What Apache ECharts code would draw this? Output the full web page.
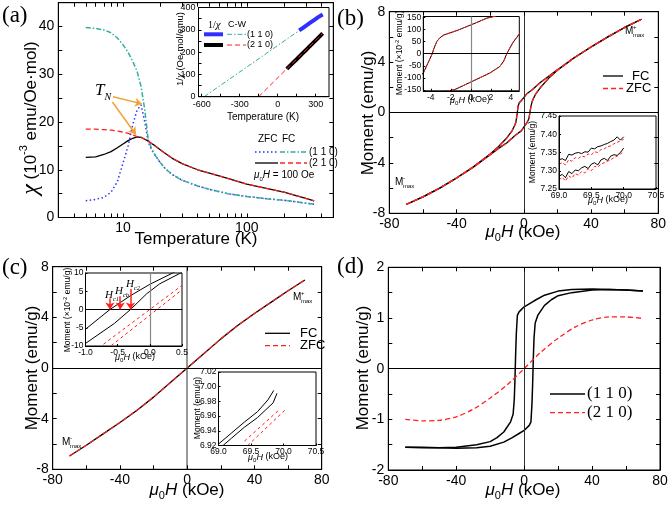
<!DOCTYPE html>
<html><head><meta charset="utf-8">
<script src="https://cdn.jsdelivr.net/npm/echarts@6/dist/echarts.min.js"></script>
<style>html,body{margin:0;padding:0;background:#fff}#c{width:671px;height:505px}</style>
</head><body><div id="c"></div>
<script>
// ===== DATA =====
// (a) susceptibility vs temperature
const a_T      = [5,6,7,8,9,10,11,12,13,14,15,16,17,18,20,22,25,30,40,50,70,100,150,200,250,300,350];
const a_zfc110 = [3.5,3.8,4.2,5.3,7.5,11.4,15,19.5,22.5,23.6,20,15.8,14.2,13.2,11.5,10.2,9,7.8,6.6,5.9,5.0,4.4,3.9,3.6,3.3,3.0,2.8];
const a_fc110  = [39.8,39.6,39.3,38.7,37.6,36.2,34.6,32.7,30.6,27.4,22.5,16.2,14.5,13.2,11.5,10.2,9,7.8,6.6,5.9,5.0,4.4,3.9,3.6,3.3,3.0,2.8];
const a_zfc210 = [12.6,12.7,13.2,13.8,14.6,15.4,16.1,16.6,16.9,16.8,16.4,16.0,15.5,15.1,14.2,13.4,12.4,11.3,10.0,9.3,8.2,7.0,6.0,5.3,4.6,4.0,3.5];
const a_fc210  = [18.5,18.5,18.4,18.3,18.1,17.9,17.6,17.3,16.95,16.8,16.4,16.0,15.5,15.1,14.2,13.4,12.4,11.3,10.0,9.3,8.2,7.0,6.0,5.3,4.6,4.0,3.5];
// (a) inset: 1/chi and Curie-Weiss fits
const ai_T110   = [170,200,230,260,290,320,355];
const ai_inv110 = [297,309,321,333,345,357,369];
const ai_cw110T = [-580,355];
const ai_cw110  = [0,370];
const ai_T210   = [72,110,150,190,230,270,310,355];
const ai_inv210 = [125,146,168,191,213,236,258,284];
const ai_cw210T = [-150,355];
const ai_cw210  = [0,285];
// (b) M(H) loop, (1 1 0)
const b_Hdown = [70,60,50,40,30,20,15,10,7,5,3,1.6,0,-1.4,-2.7,-3.1,-3.4,-3.7,-3.85,-4.3,-4.75,-5.5,-7,-10,-15,-20,-30,-40,-50,-60,-70];
const b_Mdown = [7.4,6.75,6.0,5.2,4.35,3.4,2.9,2.4,2.05,1.8,1.6,1.46,1.18,0.95,0.77,0.65,0.5,0.2,0,-0.4,-0.8,-1.05,-1.45,-2.0,-2.7,-3.3,-4.3,-5.2,-6.0,-6.7,-7.3];
const b_Hup   = [-70,-60,-50,-40,-30,-20,-15,-10,-7,-5,-3,-1.6,0,1.9,2.9,3.3,3.6,4.2,4.9,5.5,7,10,15,20,30,40,50,60,70];
const b_Mup   = [-7.3,-6.7,-6.0,-5.2,-4.35,-3.35,-2.85,-2.4,-2.05,-1.8,-1.6,-1.48,-1.17,-0.8,-0.53,-0.3,0,0.45,0.84,1.05,1.45,2.0,2.75,3.35,4.35,5.2,6.0,6.75,7.4];
// (b) inset 2: high-field detail
const b2_H    = [69.00,69.05,69.10,69.15,69.20,69.25,69.30,69.35,69.40,69.45,69.50,69.55,69.60,69.65,69.70,69.75,69.80,69.85,69.90,69.95,70.00];
const b2_fcU  = [7.330,7.333,7.328,7.345,7.343,7.348,7.350,7.347,7.352,7.351,7.362,7.360,7.366,7.368,7.372,7.375,7.380,7.384,7.393,7.384,7.393];
const b2_fcL  = [7.285,7.290,7.281,7.298,7.292,7.302,7.300,7.308,7.312,7.306,7.318,7.322,7.316,7.330,7.334,7.328,7.340,7.344,7.342,7.350,7.362];
const b2_zfcU = [7.318,7.322,7.316,7.330,7.326,7.336,7.334,7.340,7.338,7.346,7.344,7.352,7.350,7.358,7.360,7.366,7.368,7.374,7.378,7.382,7.386];
const b2_zfcL = [7.275,7.282,7.272,7.286,7.280,7.292,7.288,7.298,7.294,7.306,7.300,7.312,7.310,7.318,7.322,7.326,7.330,7.336,7.340,7.346,7.352];
// (c) M(H), (2 1 0)
const c_H   = [-70,-60,-50,-40,-30,-20,-10,0,10,20,30,40,50,60,70];
const c_M   = [-6.95,-6.1,-5.2,-4.3,-3.35,-2.3,-1.15,0,1.15,2.3,3.35,4.3,5.2,6.1,6.95];
// (c) inset 1: low field (x10^-2 emu/g)
const c1_HA = [-1.0,-0.62,-0.3,0.0,0.39];
const c1_MA = [-5.4,0,3.8,6.9,10.3];
const c1_HB = [-1.0,-0.55,-0.3,-0.05,0.15,0.5];
const c1_MB = [-9.3,-3.8,0,4.3,7.0,10.2];
const c1_HC = [-0.72,0.5];
const c1_MC = [-9.5,6.6];
const c1_HD = [-0.6,0.5];
const c1_MD = [-9.9,5.4];
// (c) inset 2: high field
const c2_H1 = [69.0,69.2,69.4,69.6,69.76,69.85];
const c2_M1 = [6.922,6.937,6.952,6.966,6.982,6.995];
const c2_H2 = [69.07,69.2,69.4,69.6,69.84,69.9];
const c2_M2 = [6.920,6.930,6.945,6.958,6.978,6.991];
const c2_H3 = [69.4,69.94];
const c2_M3 = [6.926,6.969];
const c2_H4 = [69.45,70.02];
const c2_M4 = [6.920,6.968];
// (d) M(H) for two orientations
const d_Hdown = [70,60,50,40,28,20,12,7,3,0,-3,-4,-4.6,-5,-5.4,-5.8,-6.5,-8,-12,-16,-20,-28,-40,-50,-60,-70];
const d_Mdown = [1.53,1.55,1.56,1.57,1.56,1.53,1.45,1.36,1.28,1.22,1.12,1.05,0.7,0.3,-0.2,-0.6,-0.9,-1.05,-1.25,-1.36,-1.44,-1.5,-1.55,-1.56,-1.55,-1.55];
const d_Hup   = [-70,-60,-50,-40,-28,-20,-12,-7,-3,0,3,4,4.6,5,5.4,5.8,6.5,8,12,16,20,28,40,50,60,70];
const d_Mup   = [-1.55,-1.56,-1.56,-1.57,-1.56,-1.53,-1.45,-1.36,-1.28,-1.22,-1.12,-1.05,-0.7,-0.3,0.2,0.6,0.9,1.05,1.25,1.36,1.44,1.5,1.55,1.56,1.55,1.53];
const d_H210  = [-70,-60,-50,-40,-30,-20,-10,0,10,20,30,40,50,60,70];
const d_M210  = [-1.0,-1.03,-1.02,-0.95,-0.8,-0.58,-0.32,0,0.33,0.6,0.82,0.96,1.02,1.02,0.99];

// ===== LAYOUT / STYLE =====
const SANS = '"Liberation Sans", Arial, sans-serif';
const SERIF = '"Liberation Serif", "Times New Roman", serif';
const TEAL = '#35ad9c', BLUE = '#2f2fff', RED = '#ff2020', ORANGE = '#f5a033';
const zip = (xs, ys, k) => xs.map((x, i) => [x, ys[i] * (k || 1)]);

const grids = [
  {left:58.3, top:2.7, width:275, height:214.8},
  {left:198.5, top:7.5, width:130.5, height:89.2, backgroundColor:'#fff'},
  {left:389.3, top:11.7, width:269, height:201.6},
  {left:423.3, top:16.5, width:96, height:74.3, backgroundColor:'#fff'},
  {left:559, top:116, width:97, height:73, backgroundColor:'#fff'},
  {left:52.7, top:266.7, width:269, height:202.6},
  {left:85.5, top:273, width:96.5, height:73, backgroundColor:'#fff'},
  {left:218.5, top:372, width:97.5, height:73.5, backgroundColor:'#fff'},
  {left:388.3, top:267.3, width:271.7, height:202.7}
].map(g => Object.assign({show:true, borderColor:'#000', borderWidth:1, containLabel:false}, g));

function ax(gridIndex, o) {
  const a = {
    gridIndex, type: o.type || 'value', min: o.min, max: o.max,
    position: o.position,
    axisLine: {show:true, onZero:false, lineStyle:{color:'#000', width:1}},
    axisTick: {show:true, inside:true, length:o.tl || 4, lineStyle:{color:'#000', width:1}},
    axisLabel: {show:o.labels !== false, color:'#000', fontFamily:SANS, fontSize:o.fs || 14, margin:o.margin || 4},
    splitLine: {show:false}, minorTick:{show:false}, z: 5
  };
  if (o.interval !== undefined) a.interval = o.interval;
  if (o.logBase) a.logBase = o.logBase;
  if (o.fmt) a.axisLabel.formatter = o.fmt;
  if (o.tv) a.axisTick.customValues = o.tv;
  if (o.lv) a.axisLabel.customValues = o.lv;
  return a;
}
const every = (m, d) => v => (Math.abs(v / m - Math.round(v / m)) < 1e-6 ? (d !== undefined ? v.toFixed(d) : String(Math.round(v*1000)/1000)) : '');
const aMinor = [4,5,6,7,8,9,10,20,30,40,50,60,70,80,90,100,200,300,400];

const xAxes = [
  ax(0, {type:'log', logBase:10, min:3, max:500, tv:aMinor, fmt: v => (Math.abs(v-10)<1e-6||Math.abs(v-100)<1e-6) ? String(Math.round(v)) : ''}),
  ax(0, {type:'log', logBase:10, min:3, max:500, position:'top', labels:false, tv:aMinor}),
  ax(1, {min:-625, max:405, tv:[-600,-450,-300,-150,0,150,300], lv:[-600,-300,0,300], fs:9, tl:3, margin:3}),
  ax(2, {min:-80, max:80, interval:20, fmt: every(40)}),
  ax(2, {min:-80, max:80, interval:20, position:'top', labels:false}),
  ax(3, {min:-4.75, max:4.85, tv:[-4,-2,0,2,4], lv:[-4,-2,0,2,4], fs:8.5, tl:2, margin:2}),
  ax(4, {min:69, max:70.5, interval:0.5, fmt: v => v.toFixed(1), fs:8.5, tl:2, margin:2}),
  ax(5, {min:-80, max:80, interval:20, fmt: every(40)}),
  ax(5, {min:-80, max:80, interval:20, position:'top', labels:false}),
  ax(6, {min:-1, max:0.5, interval:0.5, fmt: v => v.toFixed(1), fs:8.5, tl:2, margin:2}),
  ax(7, {min:69, max:70.5, interval:0.5, fmt: v => v.toFixed(1), fs:8.5, tl:2, margin:2}),
  ax(8, {min:-80, max:80, interval:20, fmt: every(40)}),
  ax(8, {min:-80, max:80, interval:20, position:'top', labels:false})
];
const yAxes = [
  ax(0, {min:0, max:45, interval:5, fmt: every(10)}),
  ax(0, {min:0, max:45, interval:5, position:'right', labels:false}),
  ax(1, {min:0, max:400, interval:50, fmt: every(100), fs:9, tl:3, margin:3}),
  ax(2, {min:-8, max:8, interval:2, fmt: every(4)}),
  ax(2, {min:-8, max:8, interval:2, position:'right', labels:false}),
  ax(3, {min:-153, max:153, tv:[-150,-100,-50,0,50,100,150], lv:[-150,-100,-50,0,50,100,150], fs:8.5, tl:2, margin:2}),
  ax(4, {min:7.25, max:7.45, interval:0.05, fmt: v => v.toFixed(2), fs:8.5, tl:2, margin:2}),
  ax(5, {min:-8, max:8, interval:2, fmt: every(4)}),
  ax(5, {min:-8, max:8, interval:2, position:'right', labels:false}),
  ax(6, {min:-10, max:10, interval:5, fs:8.5, tl:2, margin:2}),
  ax(7, {min:6.92, max:7.02, interval:0.02, fmt: v => v.toFixed(2), fs:8.5, tl:2, margin:2}),
  ax(8, {min:-2, max:2, interval:0.5, fmt: every(1)}),
  ax(8, {min:-2, max:2, interval:0.5, position:'right', labels:false})
];

function line(xi, yi, data, color, width, type, extra) {
  return Object.assign({
    type:'line', xAxisIndex:xi, yAxisIndex:yi, data, symbol:'none', showSymbol:false,
    silent:true, animation:false, clip:true,
    lineStyle:{color, width, type: type || 'solid'}
  }, extra || {});
}
const zeroLines = (vColor, vWidth) => ({
  silent:true, symbol:'none', animation:false, label:{show:false},
  lineStyle:{color:'#000', width:1, type:'solid'},
  data:[{xAxis:0, lineStyle:{color:vColor || '#000', width:vWidth || 1, type:'solid'}}, {yAxis:0}]
});
const arrowLines = (pairs, color) => ({
  silent:true, symbol:['none','arrow'], symbolSize:7, animation:false, label:{show:false},
  lineStyle:{color, width:1.5, type:'solid'},
  data: pairs.map(p => [{coord:p[0]}, {coord:p[1]}])
});

const DASH = [5,3], DOT = [1.5,2.5], DASHDOT = [5,2,1.5,2];
const series = [
  line(0,0, zip(a_T, a_zfc110), BLUE, 1.5, DOT),
  line(0,0, zip(a_T, a_fc110), TEAL, 1.5, DASHDOT),
  line(0,0, zip(a_T, a_zfc210), '#000', 1.3, 'solid'),
  line(0,0, zip(a_T, a_fc210), RED, 1.3, DASH, {markLine: arrowLines([[[8.3,25.3],[14.2,23.8]], [[8.2,24.2],[12.7,17.4]]], ORANGE)}),
  line(2,2, zip(ai_cw110T, ai_cw110), TEAL, 1, DASHDOT),
  line(2,2, zip(ai_cw210T, ai_cw210), RED, 1, DASH),
  line(2,2, zip(ai_T110, ai_inv110), BLUE, 4, 'solid'),
  line(2,2, zip(ai_T210, ai_inv210), '#000', 4, 'solid'),
  line(2,2, zip(ai_T210, ai_inv210), RED, 1, DASH),
  line(3,3, zip(b_Hdown, b_Mdown), '#000', 1.3, 'solid', {markLine: zeroLines('#333', 1)}),
  line(3,3, zip(b_Hup, b_Mup), '#000', 1.3, 'solid'),
  line(3,3, zip(b_Hdown, b_Mdown), RED, 1.3, DASH),
  line(3,3, zip(b_Hup, b_Mup), RED, 1.3, DASH),
  line(5,5, zip(b_Hdown, b_Mdown, 100), '#000', 1, 'solid', {markLine: zeroLines('#888', 1.2)}),
  line(5,5, zip(b_Hup, b_Mup, 100), '#000', 1, 'solid'),
  line(5,5, zip(b_Hdown, b_Mdown, 100), RED, 1, [4,2]),
  line(5,5, zip(b_Hup, b_Mup, 100), RED, 1, [4,2]),
  line(6,6, zip(b2_H, b2_fcU), '#000', 1, 'solid'),
  line(6,6, zip(b2_H, b2_fcL), '#000', 1, 'solid'),
  line(6,6, zip(b2_H, b2_zfcU), RED, 1, [3,2]),
  line(6,6, zip(b2_H, b2_zfcL), RED, 1, [3,2]),
  line(7,7, zip(c_H, c_M), '#000', 1.3, 'solid', {markLine: zeroLines('#777', 1.5)}),
  line(7,7, zip(c_H, c_M), RED, 1.3, DASH),
  line(9,9, zip(c1_HA, c1_MA), '#000', 1, 'solid', {markLine: zeroLines('#888', 1.2)}),
  line(9,9, zip(c1_HB, c1_MB), '#000', 1, 'solid', {markLine: arrowLines([[[-0.62,3],[-0.62,0]], [[-0.46,3.6],[-0.46,0]], [[-0.3,5.6],[-0.3,0]]], RED)}),
  line(9,9, zip(c1_HC, c1_MC), RED, 1, [3,3]),
  line(9,9, zip(c1_HD, c1_MD), RED, 1, [3,3]),
  line(10,10, zip(c2_H1, c2_M1), '#000', 1, 'solid'),
  line(10,10, zip(c2_H2, c2_M2), '#000', 1, 'solid'),
  line(10,10, zip(c2_H3, c2_M3), RED, 1, [3,3]),
  line(10,10, zip(c2_H4, c2_M4), RED, 1, [3,3]),
  line(11,11, zip(d_Hdown, d_Mdown), '#000', 1.5, 'solid', {markLine: zeroLines('#333', 1)}),
  line(11,11, zip(d_Hup, d_Mup), '#000', 1.5, 'solid'),
  line(11,11, zip(d_H210, d_M210), RED, 1.3, DASH, {smooth:0.3})
];

// ===== TEXT / ANNOTATIONS =====
function T(x, y, text, st, rot) {
  return {type:'text', x, y, rotation: rot || 0, silent:true, z:100,
    style: Object.assign({text, fill:'#000', fontFamily:SANS, fontSize:14, align:'left', verticalAlign:'middle'}, st || {})};
}
function L(x1, y1, x2, y2, color, w, dash) {
  return {type:'line', silent:true, z:100, shape:{x1,y1,x2,y2}, style:{stroke:color, lineWidth:w, lineDash:dash || null}};
}
// rich helpers: main tokens with line height lh, sub/sup tokens aligned to bottom/top
function richSub(fs, sub, fam, italicMain) {
  const lh = Math.round(fs * 1.35);
  return {
    i:{fontStyle:'italic', fontSize:fs, fontFamily:fam || SANS, lineHeight:lh, verticalAlign:'middle'},
    n:{fontSize:fs, fontFamily:fam || SANS, lineHeight:lh, verticalAlign:'middle'},
    s:{fontSize:sub, fontFamily:fam || SANS, lineHeight:sub, verticalAlign:'bottom', fontStyle: italicMain ? 'italic' : 'normal'},
    p:{fontSize:sub, fontFamily:fam || SANS, lineHeight:sub, verticalAlign:'top'}
  };
}
const muH = (fs, sub) => ({text:'{i|μ}{s|0}{i|H}{n| (kOe)}', rich: richSub(fs, sub), fontSize:fs, align:'center'});
const R90 = Math.PI / 2;
const hc = t => ({text:'{i|H}{s|' + t + '}', rich: richSub(11, 6.5, SERIF, true)});
const graphics = [
  T(2, 16, '(a)', {fontFamily:SERIF, fontSize:23}),
  T(337, 19, '(b)', {fontFamily:SERIF, fontSize:23}),
  T(2, 268, '(c)', {fontFamily:SERIF, fontSize:23}),
  T(337, 267, '(d)', {fontFamily:SERIF, fontSize:23}),
  // (a)
  T(31, 118, '{x|χ}{n| (10}{p|-3}{n| emu/Oe·mol)}', {align:'center', fontSize:17,
     rich:{x:{fontFamily:SERIF, fontStyle:'italic', fontSize:24, lineHeight:26, verticalAlign:'middle'},
           n:{fontSize:17, fontFamily:SANS, lineHeight:26, verticalAlign:'middle'},
           p:{fontSize:11, fontFamily:SANS, lineHeight:14, verticalAlign:'top'}}}, R90),
  T(196, 239, 'Temperature (K)', {align:'center', fontSize:17}),
  T(95, 91, '{i|T}{s|N}', {rich: richSub(17, 10, SERIF, true)}),
  T(258, 139, 'ZFC', {fontSize:10}),
  T(282, 139, 'FC', {fontSize:10}),
  L(255, 152, 278, 152, BLUE, 1.5, DOT), L(280, 152, 307, 152, TEAL, 1.5, DASHDOT),
  T(309, 152, '(1 1 0)', {fontSize:10}),
  L(255, 163, 278, 163, '#000', 1.3), L(280, 163, 307, 163, RED, 1.3, DASH),
  T(309, 163, '(2 1 0)', {fontSize:10}),
  T(254, 175, '{i|μ}{s|0}{i|H}{n| = 100 Oe}', {rich: richSub(10, 6)}),
  // (a) inset
  T(180, 49, '1/{x|χ} (Oe·mol/emu)', {align:'center', fontSize:9.5, rich:{x:{fontFamily:SERIF, fontStyle:'italic', fontSize:11}}}, R90),
  T(263, 117, 'Temperature (K)', {align:'center', fontSize:10}),
  T(208, 25, '1/{x|χ}', {fontFamily:SERIF, fontSize:10, rich:{x:{fontFamily:SERIF, fontStyle:'italic', fontSize:11}}}),
  T(228, 25, 'C-W', {fontSize:9}),
  L(204, 34.3, 223, 34.3, BLUE, 4), L(227, 34.3, 246, 34.3, TEAL, 1, DASHDOT),
  T(247, 34.3, '(1 1 0)', {fontSize:9}),
  L(204, 45, 223, 45, '#000', 4), L(227, 45, 246, 45, RED, 1, DASH),
  T(247, 45, '(2 1 0)', {fontSize:9}),
  // (b)
  T(368, 113, 'Moment (emu/g)', {align:'center', fontSize:17}, R90),
  T(523, 232, '', muH(17, 11)),
  L(603, 76, 623, 76, '#000', 1.3), T(632, 76, 'FC', {fontSize:13}),
  L(603, 88.5, 623, 88.5, RED, 1.3, DASH), T(626, 88.5, 'ZFC', {fontSize:13}),
  T(625, 31, 'M', {fontSize:10}), T(633, 27, '+', {fontSize:6}), T(633, 35, 'max', {fontSize:6}),
  T(395, 182, 'M', {fontSize:10}), T(403, 178, '-', {fontSize:6}), T(403, 186, 'max', {fontSize:6}),
  T(400, 53, '{n|Moment (×10}{p|-2}{n| emu/g)}', {align:'center', rich: richSub(8.5, 6)}, R90),
  T(470, 100, '', muH(9, 6)),
  T(533, 152, 'Moment (emu/g)', {align:'center', fontSize:8.5}, R90),
  T(608, 200, '', muH(9, 6)),
  // (c)
  T(32, 368, 'Moment (emu/g)', {align:'center', fontSize:17}, R90),
  T(187, 490, '', muH(17, 11)),
  L(265, 333.3, 290, 333.3, '#000', 1.3), T(300, 333.3, 'FC', {fontSize:13}),
  L(265, 345.7, 290, 345.7, RED, 1.3, DASH), T(300, 345.7, 'ZFC', {fontSize:13}),
  T(293, 297, 'M', {fontSize:10}), T(301, 293, '+', {fontSize:6}), T(301, 301, 'max', {fontSize:6}),
  T(62, 442, 'M', {fontSize:10}), T(70, 438, '-', {fontSize:6}), T(70, 446, 'max', {fontSize:6}),
  T(68, 310, '{n|Moment (×10}{p|-2}{n| emu/g)}', {align:'center', rich: richSub(8.5, 6)}, R90),
  T(135, 357, '', muH(9, 6)),
  T(198, 408, 'Moment (emu/g)', {align:'center', fontSize:8.5}, R90),
  T(268, 457, '', muH(9, 6)),
  T(105, 295, '', hc('c1')),
  T(115, 291, '', hc('cb')),
  T(126, 284, '', hc('c2')),
  // (d)
  T(363, 368, 'Moment (emu/g)', {align:'center', fontSize:17}, R90),
  T(523, 490, '', muH(17, 11)),
  L(550, 394, 585, 394, '#000', 1.5), T(587, 394, '(1 1 0)', {fontFamily:SERIF, fontSize:17}),
  L(550, 412.7, 585, 412.7, RED, 1.3, DASH), T(587, 412.7, '(2 1 0)', {fontFamily:SERIF, fontSize:17})
];

const chart = echarts.init(document.getElementById('c'), null, {renderer:'canvas'});
chart.setOption({
  animation:false,
  backgroundColor:'#fff',
  grid: grids,
  xAxis: xAxes,
  yAxis: yAxes,
  series,
  graphic: graphics
});
</script>
</body></html>
